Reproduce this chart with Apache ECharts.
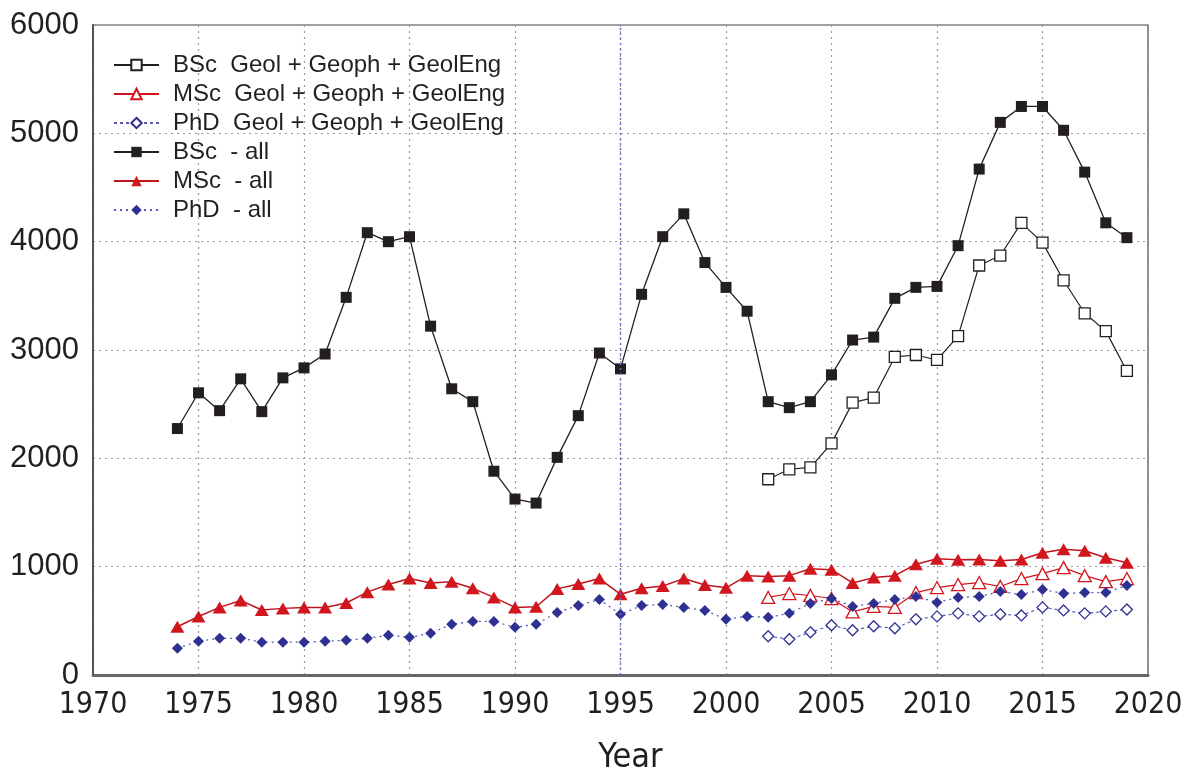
<!DOCTYPE html>
<html>
<head>
<meta charset="utf-8">
<script src="https://cdn.jsdelivr.net/npm/echarts@6/dist/echarts.min.js"></script>
<style>html,body{margin:0;padding:0;background:#fff}#c{width:1201px;height:780px}</style>
</head>
<body>
<div id="c"></div>
<script>
var yearsAll = [1974,1975,1976,1977,1978,1979,1980,1981,1982,1983,1984,1985,1986,1987,1988,1989,1990,1991,1992,1993,1994,1995,1996,1997,1998,1999,2000,2001,2002,2003,2004,2005,2006,2007,2008,2009,2010,2011,2012,2013,2014,2015,2016,2017,2018,2019];
var yearsGeol = [2002,2003,2004,2005,2006,2007,2008,2009,2010,2011,2012,2013,2014,2015,2016,2017,2018,2019];

var bscAll = [2275,2605,2440,2734,2431,2743,2835,2963,3486,4083,4000,4046,3220,2642,2523,1881,1624,1587,2009,2394,2972,2826,3514,4046,4257,3807,3578,3358,2523,2468,2523,2771,3092,3119,3477,3578,3587,3963,4670,5101,5248,5248,5028,4642,4174,4037];
var mscAll = [445,540,624,688,600,615,624,624,665,765,835,890,850,860,800,716,624,630,795,840,890,745,800,822,890,830,805,917,910,917,980,972,850,899,917,1022,1073,1064,1066,1055,1066,1128,1160,1147,1083,1037];
var phdAll = [248,312,339,339,303,303,303,312,321,339,367,349,385,468,495,495,440,468,578,642,697,560,642,651,624,596,514,541,532,569,661,706,633,661,697,725,670,716,725,771,743,789,752,761,761,826];

var bscGeol = [1807,1899,1917,2138,2514,2560,2936,2954,2908,3128,3780,3872,4174,3991,3642,3339,3174,2807];
var mscGeol = [716,752,734,706,582,633,624,761,807,835,853,817,890,936,991,917,862,890];
var phdGeol = [358,330,394,459,413,450,431,514,541,569,541,560,550,624,596,569,587,605];

var xTicks = [1970,1975,1980,1985,1990,1995,2000,2005,2010,2015,2020];
var yTicks = [0,1000,2000,3000,4000,5000,6000];

var names = ['BSc  Geol + Geoph + GeolEng','MSc  Geol + Geoph + GeolEng','PhD  Geol + Geoph + GeolEng','BSc  - all','MSc  - all','PhD  - all'];

function pairs(xs, ys){ return xs.map(function(x,i){ return [x, ys[i]]; }); }

var RED = '#d2161e', BLUE = '#2e3192', BLUEL = '#5a5ab4';
var NARROW = '"DejaVu Sans Condensed", "Liberation Sans Narrow", "Liberation Sans", sans-serif';

var chart = echarts.init(document.getElementById('c'));
chart.setOption({
  animation: false,
  backgroundColor: '#fff',
  grid: { left: 93, right: 53, top: 25, bottom: 101, show: true, borderColor: '#444', borderWidth: 1.2 },
  legend: {
    orient: 'vertical', left: 108, top: 48,
    itemWidth: 45, itemHeight: 13, itemGap: 5,
    textStyle: { fontFamily: 'Liberation Sans, Arial, sans-serif', fontSize: 24, color: '#231f20', padding: [0, 0, 0, 9] },
    data: names
  },
  xAxis: {
    type: 'value', min: xTicks[0], max: xTicks[xTicks.length-1], interval: 5,
    name: 'Year', nameLocation: 'middle', nameGap: 66,
    nameTextStyle: { fontFamily: NARROW, fontSize: 34, color: '#231f20', padding: [0, 0, 0, 20] },
    axisLine: { show: true, lineStyle: { color: '#666', width: 3 } },
    axisTick: { show: false },
    axisLabel: { fontFamily: NARROW, fontSize: 30, color: '#231f20', margin: 15, formatter: function(v){ return String(v); } },
    splitLine: { show: true, lineStyle: { color: '#999', width: 1.2, type: [2, 4] } }
  },
  yAxis: {
    type: 'value', min: yTicks[0], max: yTicks[yTicks.length-1], interval: 1000,
    axisLine: { show: true, lineStyle: { color: '#555', width: 2 } },
    axisTick: { show: false },
    axisLabel: { fontFamily: 'Liberation Sans, Arial, sans-serif', fontSize: 31, color: '#231f20', margin: 14, formatter: function(v){ return String(v); } },
    splitLine: { show: true, lineStyle: { color: '#999', width: 1.2, type: [2, 4] } }
  },
  series: [
    { name: names[0], type: 'line', data: pairs(yearsGeol, bscGeol), symbol: 'rect', symbolSize: 11,
      itemStyle: { color: '#fff', borderColor: '#231f20', borderWidth: 1.3 },
      lineStyle: { color: '#231f20', width: 1.2 }, z: 3 },
    { name: names[1], type: 'line', data: pairs(yearsGeol, mscGeol), symbol: 'triangle', symbolSize: [13, 12],
      itemStyle: { color: '#fff', borderColor: RED, borderWidth: 1.3 },
      lineStyle: { color: RED, width: 1.2 }, z: 3 },
    { name: names[2], type: 'line', data: pairs(yearsGeol, phdGeol), symbol: 'diamond', symbolSize: 11,
      itemStyle: { color: '#fff', borderColor: BLUE, borderWidth: 1.3 },
      lineStyle: { color: BLUEL, width: 1.2, type: [3, 3] }, z: 3 },
    { name: names[3], type: 'line', data: pairs(yearsAll, bscAll), symbol: 'rect', symbolSize: 11,
      itemStyle: { color: '#231f20' },
      lineStyle: { color: '#231f20', width: 1.3 }, z: 4 },
    { name: names[4], type: 'line', data: pairs(yearsAll, mscAll), symbol: 'triangle', symbolSize: [14, 12],
      itemStyle: { color: RED },
      lineStyle: { color: '#c0141c', width: 1.5 }, z: 4 },
    { name: names[5], type: 'line', data: pairs(yearsAll, phdAll), symbol: 'diamond', symbolSize: 11,
      itemStyle: { color: BLUE },
      lineStyle: { color: BLUEL, width: 1.3, type: [2, 4] }, z: 4,
      markLine: { silent: true, symbol: 'none', label: { show: false },
        lineStyle: { color: '#6a6ad0', width: 1.4, type: [2, 3] },
        data: [{ xAxis: 1995 }] } }
  ]
});
</script>
</body>
</html>
